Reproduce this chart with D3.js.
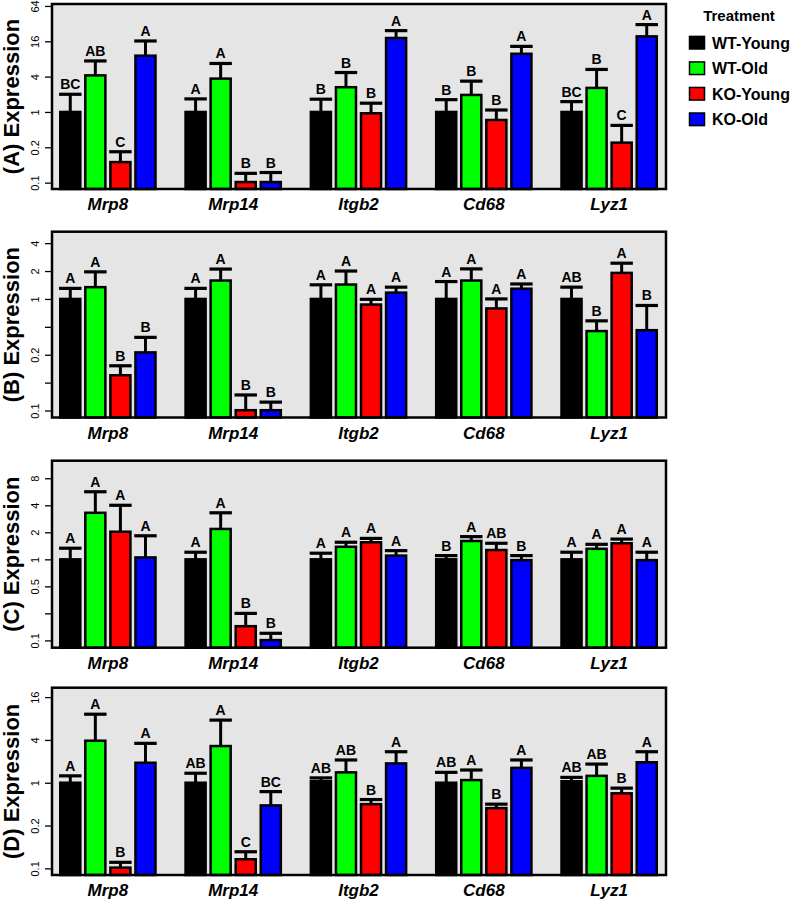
<!DOCTYPE html>
<html>
<head>
<meta charset="utf-8">
<script src="https://cdn.jsdelivr.net/npm/d3@7"></script>
<style>
  html, body { margin: 0; padding: 0; background: #ffffff; }
  svg { display: block; font-family: "Liberation Sans", Arial, Helvetica, sans-serif; }
</style>
</head>
<body>
<svg id="chart" width="796" height="901"></svg>
<script>
// ---------- data ----------
const genes = ["Mrp8", "Mrp14", "Itgb2", "Cd68", "Lyz1"];
const treatments = ["WT-Young", "WT-Old", "KO-Young", "KO-Old"];
const colors = ["#000000", "#00ff00", "#ff0000", "#0000ff"];
const panelNames = ["(A) Expression", "(B) Expression", "(C) Expression", "(D) Expression"];

// mean expression (fold) per gene, per treatment
const meanA = [[1.0, 4.2, 0.14, 9.1], [1.0, 3.7, 0.064, 0.064], [1.0, 2.64, 0.95, 18.2], [1.0, 1.95, 0.73, 9.8], [1.0, 2.57, 0.30, 19.4]];
const errA  = [[2.0, 7.4, 0.21, 16.2], [1.67, 6.7, 0.09, 0.093], [1.65, 4.7, 1.41, 24.3], [1.62, 3.35, 1.08, 13.1], [1.5, 5.3, 0.59, 30.8]];
const lettersA = [["BC", "AB", "C", "A"], ["A", "A", "B", "B"], ["B", "B", "B", "A"], ["B", "B", "B", "A"], ["BC", "B", "C", "A"]];

const meanB = [[1.0, 1.34, 0.15, 0.265], [1.0, 1.58, 0.063, 0.063], [1.0, 1.43, 0.87, 1.17], [1.0, 1.58, 0.79, 1.29], [1.0, 0.45, 1.91, 0.46]];
const errB  = [[1.3, 1.96, 0.19, 0.385], [1.3, 2.1, 0.092, 0.077], [1.42, 2.0, 0.99, 1.34], [1.54, 2.11, 1.0, 1.45], [1.34, 0.58, 2.43, 0.85]];
const lettersB = [["A", "A", "B", "B"], ["A", "A", "B", "B"], ["A", "A", "A", "A"], ["A", "A", "A", "A"], ["AB", "B", "A", "B"]];

const meanC = [[1.0, 3.3, 2.03, 1.05], [1.0, 2.18, 0.18, 0.126], [1.0, 1.38, 1.55, 1.1], [1.0, 1.6, 1.27, 0.98], [1.0, 1.31, 1.51, 0.98]];
const errC  = [[1.33, 5.66, 4.0, 1.83], [1.2, 3.3, 0.25, 0.15], [1.17, 1.55, 1.71, 1.25], [1.1, 1.79, 1.51, 1.1], [1.2, 1.47, 1.68, 1.2]];
const lettersC = [["A", "A", "A", "A"], ["A", "A", "B", "B"], ["A", "A", "A", "A"], ["B", "A", "AB", "B"], ["A", "A", "A", "A"]];

const meanD = [[1.0, 3.9, 0.064, 1.91], [1.0, 3.28, 0.084, 0.48], [1.05, 1.4, 0.5, 1.87], [1.0, 1.09, 0.44, 1.62], [1.05, 1.25, 0.71, 1.94]];
const errD  = [[1.25, 9.2, 0.076, 3.58], [1.36, 7.6, 0.107, 0.75], [1.17, 2.09, 0.58, 2.73], [1.4, 1.51, 0.5, 2.09], [1.19, 1.83, 0.84, 2.73]];
const lettersD = [["A", "A", "B", "A"], ["AB", "A", "C", "BC"], ["AB", "AB", "B", "A"], ["AB", "A", "B", "A"], ["AB", "AB", "B", "A"]];

// y ticks: log2 exponents and printed labels
const tickExpA = [-4, -2, 0, 2, 4, 6];      const tickLabA = ["0.1", "0.2", "1", "4", "16", "64"];
const tickExpB = [-4, -3, -2, -1, 0, 1, 2]; const tickLabB = ["0.1", "", "0.2", "", "1", "2", "4"];
const tickExpC = [-3, -2, -1, 0, 1, 2, 3];  const tickLabC = ["0.1", "", "0.5", "1", "2", "4", "8"];
const tickExpD = [-4, -2, 0, 2, 4];         const tickLabD = ["0.1", "0.2", "1", "4", "16"];

// ---------- layout ----------
const panels = [
  { mean: meanA, err: errA, letters: lettersA, tickExp: tickExpA, tickLab: tickLabA, top: 4,     bottom: 189,   lo: -4.36, hi: 6.11 },
  { mean: meanB, err: errB, letters: lettersB, tickExp: tickExpB, tickLab: tickLabB, top: 231.7, bottom: 417.5, lo: -4.25, hi: 2.41 },
  { mean: meanC, err: errC, letters: lettersC, tickExp: tickExpC, tickLab: tickLabC, top: 460.7, bottom: 647.7, lo: -3.27, hi: 3.65 },
  { mean: meanD, err: errD, letters: lettersD, tickExp: tickExpD, tickLab: tickLabD, top: 687.7, bottom: 875,   lo: -4.31, hi: 4.44 }
];
const boxLeft = 52, boxRight = 666;

const svg = d3.select("#chart");

const xGene = d3.scaleBand().domain(genes).range([59, 658]).paddingInner(0.22).paddingOuter(0);
const xTreat = d3.scaleBand().domain(treatments).range([1.25, xGene.bandwidth() - 1.25]).paddingInner(0.2).paddingOuter(0);

panels.forEach((p, pi) => {
  const y = d3.scaleLog().base(2)
    .domain([Math.pow(2, p.lo), Math.pow(2, p.hi)])
    .range([p.bottom, p.top]);

  const g = svg.append("g");

  // background
  g.append("rect")
    .attr("x", boxLeft).attr("y", p.top)
    .attr("width", boxRight - boxLeft).attr("height", p.bottom - p.top)
    .attr("fill", "#e5e5e5");

  // bars + error bars + letters
  genes.forEach((gene, gi) => {
    treatments.forEach((t, ti) => {
      const x0 = xGene(gene) + xTreat(t);
      const w = xTreat.bandwidth();
      const yv = y(p.mean[gi][ti]);
      const ye = y(p.err[gi][ti]);
      const cx = x0 + w / 2;
      // error bar stem
      g.append("line")
        .attr("x1", cx).attr("x2", cx)
        .attr("y1", yv).attr("y2", ye)
        .attr("stroke", "#000").attr("stroke-width", 3);
      // error bar cap
      g.append("line")
        .attr("x1", x0 - 1.2).attr("x2", x0 + w + 1.2)
        .attr("y1", ye).attr("y2", ye)
        .attr("stroke", "#000").attr("stroke-width", 3.2);
      // bar
      g.append("rect")
        .attr("x", x0).attr("y", yv)
        .attr("width", w).attr("height", p.bottom - yv)
        .attr("fill", colors[ti])
        .attr("stroke", "#000").attr("stroke-width", 2.5);
      // letter
      g.append("text")
        .attr("x", cx).attr("y", ye - 5)
        .attr("text-anchor", "middle")
        .attr("font-size", 14).attr("font-weight", "bold")
        .attr("fill", "#000")
        .text(p.letters[gi][ti]);
    });
    // gene label
    g.append("text")
      .attr("x", xGene(gene) + xGene.bandwidth() / 2)
      .attr("y", p.bottom + 21)
      .attr("text-anchor", "middle")
      .attr("font-size", 17).attr("font-weight", "bold").attr("font-style", "italic")
      .attr("fill", "#000")
      .text(gene);
  });

  // box border
  g.append("rect")
    .attr("x", boxLeft).attr("y", p.top)
    .attr("width", boxRight - boxLeft).attr("height", p.bottom - p.top)
    .attr("fill", "none").attr("stroke", "#000").attr("stroke-width", 2.5);

  // y axis
  const axis = d3.axisLeft(y)
    .tickValues(p.tickExp.map(e => Math.pow(2, e)))
    .tickFormat((d, i) => p.tickLab[i])
    .tickSize(6).tickSizeOuter(0);
  const ag = g.append("g").attr("transform", `translate(${boxLeft - 1},0)`).call(axis);
  ag.select(".domain").remove();
  ag.selectAll(".tick line").attr("stroke", "#000").attr("stroke-width", 1.3);
  ag.selectAll(".tick text")
    .attr("x", null).attr("dy", null)
    .attr("transform", "translate(-12,0) rotate(-90)")
    .attr("text-anchor", "middle")
    .attr("font-size", 11)
    .attr("font-family", "Liberation Sans, Arial, sans-serif")
    .attr("fill", "#000");

  // y title
  g.append("text")
    .attr("transform", `translate(19,${(p.top + p.bottom) / 2}) rotate(-90)`)
    .attr("text-anchor", "middle")
    .attr("font-size", 22).attr("font-weight", "bold")
    .attr("fill", "#000")
    .text(panelNames[pi]);
});

// ---------- legend ----------
const legend = svg.append("g");
legend.append("text")
  .attr("x", 739).attr("y", 20.5)
  .attr("text-anchor", "middle")
  .attr("font-size", 15).attr("font-weight", "bold")
  .text("Treatment");
const legY = d3.scalePoint().domain(treatments).range([42.7, 119.3]);
treatments.forEach((t, i) => {
  legend.append("rect")
    .attr("x", 689.5).attr("y", legY(t) - 6.3)
    .attr("width", 15).attr("height", 12.6)
    .attr("fill", colors[i]).attr("stroke", "#000").attr("stroke-width", 1.5);
  legend.append("text")
    .attr("x", 712).attr("y", legY(t) + 6)
    .attr("font-size", 16).attr("font-weight", "bold")
    .text(t);
});
</script>
</body>
</html>
